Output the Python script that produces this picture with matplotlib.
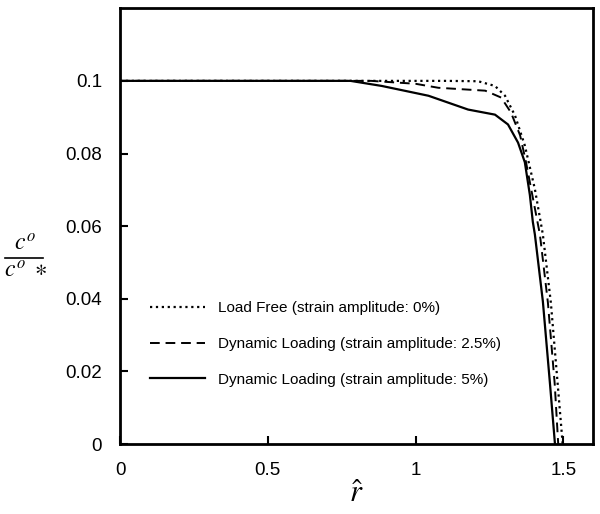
import numpy as np
import matplotlib.pyplot as plt
from matplotlib.lines import Line2D

plt.rcParams['font.family'] = ['Liberation Sans', 'DejaVu Sans']
plt.rcParams['mathtext.fontset'] = 'stix'

# curves
x_free = [0, 0.8, 1.1, 1.212, 1.269, 1.303, 1.337, 1.370, 1.404, 1.431, 1.458, 1.481, 1.498]
y_free = [0.1, 0.1, 0.1, 0.0999, 0.0986, 0.0959, 0.0904, 0.0822, 0.0702, 0.0577, 0.039, 0.0167, 0.0]

x_25 = [0, 0.85, 1.0, 1.077, 1.236, 1.29, 1.323, 1.354, 1.374, 1.421, 1.448, 1.471, 1.483]
y_25 = [0.1, 0.1, 0.0992, 0.0981, 0.0973, 0.0954, 0.0913, 0.085, 0.0776, 0.0577, 0.039, 0.0167, 0.0]

x_5 = [0, 0.78, 0.886, 1.044, 1.178, 1.269, 1.313, 1.347, 1.370, 1.387, 1.397, 1.404, 1.431, 1.455, 1.472]
y_5 = [0.1, 0.1, 0.0986, 0.0959, 0.0921, 0.0907, 0.088, 0.083, 0.0776, 0.0686, 0.0612, 0.0577, 0.0393, 0.0167, 0.0]

labels = ['Load Free (strain amplitude: 0%)',
          'Dynamic Loading (strain amplitude: 2.5%)',
          'Dynamic Loading (strain amplitude: 5%)']

fig = plt.figure(figsize=(6, 5.14), dpi=100)
ax = fig.add_axes([0.2, 0.136, 0.788, 0.848])

ax.plot(x_free, y_free, color='black', linestyle=':', lw=1.6, label=labels[0])
ax.plot(x_25, y_25, color='black', linestyle=(0, (5, 3)), lw=1.4, label=labels[1])
ax.plot(x_5, y_5, color='black', linestyle='-', lw=1.6, label=labels[2])

ax.set_xlim(0, 1.6)
ax.set_ylim(0, 0.12)
ax.set_xticks([0, 0.5, 1, 1.5])
ax.set_xticklabels(['0', '0.5', '1', '1.5'])
ax.set_yticks([0, 0.02, 0.04, 0.06, 0.08, 0.1])
ax.set_yticklabels(['0', '0.02', '0.04', '0.06', '0.08', '0.1'])
ax.tick_params(direction='in', length=6, width=1.5, labelsize=13.5, pad=13)
for s in ax.spines.values():
    s.set_linewidth(2)

ax.legend(loc='lower left', bbox_to_anchor=(0.035, 0.1), frameon=False,
          fontsize=11, handlelength=3.6, labelspacing=1.43, handletextpad=0.8)

ax.set_xlabel(r'$\hat{r}$', fontsize=22, labelpad=0)

# y label drawn as a stacked fraction
fig.text(0.041, 0.503, r'$c^o$', fontsize=17, ha='center', va='bottom')
fig.add_artist(Line2D([0.009, 0.072], [0.498, 0.498], color='black', lw=1.2,
                      transform=fig.transFigure))
fig.text(0.042, 0.492, r'$c^o\ \ast$', fontsize=17, ha='center', va='top')

fig.savefig('out.png', dpi=100)
